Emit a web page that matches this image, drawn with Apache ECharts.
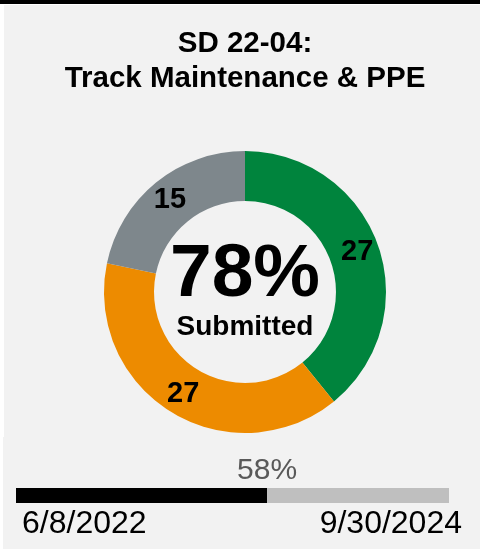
<!DOCTYPE html>
<html>
<head>
<meta charset="utf-8">
<script src="https://cdn.jsdelivr.net/npm/echarts@6/dist/echarts.min.js"></script>
<style>
  html, body { margin: 0; padding: 0; background: #f2f2f2; }
  #chart { width: 480px; height: 549px; }
</style>
</head>
<body>
<div id="chart"></div>
<script>
const titleLines = ['SD 22-04:', 'Track Maintenance & PPE'];
const statusNames = ['Submitted', 'Submitted (other)', 'Not submitted'];
const statusCounts = [27, 27, 15];
const statusColors = ['#00843d', '#ed8b00', '#7e878c'];
const submittedCount = statusCounts[0] + statusCounts[1];
const totalCount = statusCounts.reduce((a, b) => a + b, 0);
const elapsedPct = 58;
const dateLabels = ['6/8/2022', '9/30/2024'];

const font = '"Liberation Sans", Arial, sans-serif';
const chart = echarts.init(document.getElementById('chart'));

chart.setOption({
  backgroundColor: '#f2f2f2',
  animation: false,
  graphic: [
    { type: 'rect', shape: { x: 0, y: 0, width: 480, height: 4 }, style: { fill: '#000' } },
    { type: 'rect', shape: { x: 0, y: 4, width: 480, height: 1 }, style: { fill: '#fff' } },
    { type: 'rect', shape: { x: 0, y: 5, width: 4, height: 432 }, style: { fill: '#fff' } },
    { type: 'rect', shape: { x: 0, y: 437, width: 3, height: 112 }, style: { fill: '#fff' } },
    { type: 'text', style: { x: 245, y: 44, text: titleLines[0], textAlign: 'center', textVerticalAlign: 'middle',
        font: 'bold 29.5px ' + font, fill: '#000' } },
    { type: 'text', style: { x: 245, y: 79, text: titleLines[1], textAlign: 'center', textVerticalAlign: 'middle',
        font: 'bold 29.5px ' + font, fill: '#000' } },
    { type: 'text', style: { x: 245, y: 275, text: Math.round(submittedCount / totalCount * 100) + '%',
        textAlign: 'center', textVerticalAlign: 'middle', font: 'bold 75px ' + font, fill: '#000' } },
    { type: 'text', style: { x: 245, y: 327, text: 'Submitted', textAlign: 'center', textVerticalAlign: 'middle',
        font: 'bold 28px ' + font, fill: '#000' } },
    { type: 'text', style: { x: 22, y: 524, text: dateLabels[0], textAlign: 'left', textVerticalAlign: 'middle',
        font: '32px ' + font, fill: '#000' } },
    { type: 'text', style: { x: 462, y: 524, text: dateLabels[1], textAlign: 'right', textVerticalAlign: 'middle',
        font: '32px ' + font, fill: '#000' } }
  ],
  grid: { left: 16, right: 31, top: 488, height: 15 },
  xAxis: { type: 'value', min: 0, max: 100, show: false },
  yAxis: { type: 'category', data: ['time'], show: false },
  series: [
    {
      type: 'pie',
      center: [245, 292],
      radius: [91, 141],
      startAngle: 90,
      clockwise: true,
      label: {
        show: true, position: 'inside', formatter: '{c}',
        color: '#000', fontFamily: font, fontWeight: 'bold', fontSize: 29
      },
      labelLine: { show: false },
      itemStyle: { borderWidth: 0 },
      data: statusNames.map((name, i) => ({ name, value: statusCounts[i], itemStyle: { color: statusColors[i] } }))
    },
    {
      type: 'bar', stack: 't', barWidth: 15,
      data: [elapsedPct], itemStyle: { color: '#000' }
    },
    {
      type: 'bar', stack: 't', barWidth: 15,
      data: [100 - elapsedPct], itemStyle: { color: '#bfbfbf' }
    },
    {
      type: 'scatter', symbolSize: 0,
      itemStyle: { opacity: 1 },
      data: [[elapsedPct, 'time']],
      label: {
        show: true, position: 'top', distance: 10, formatter: elapsedPct + '%',
        color: '#595959', opacity: 1, fontFamily: font, fontSize: 30
      }
    }
  ]
});
</script>
</body>
</html>
